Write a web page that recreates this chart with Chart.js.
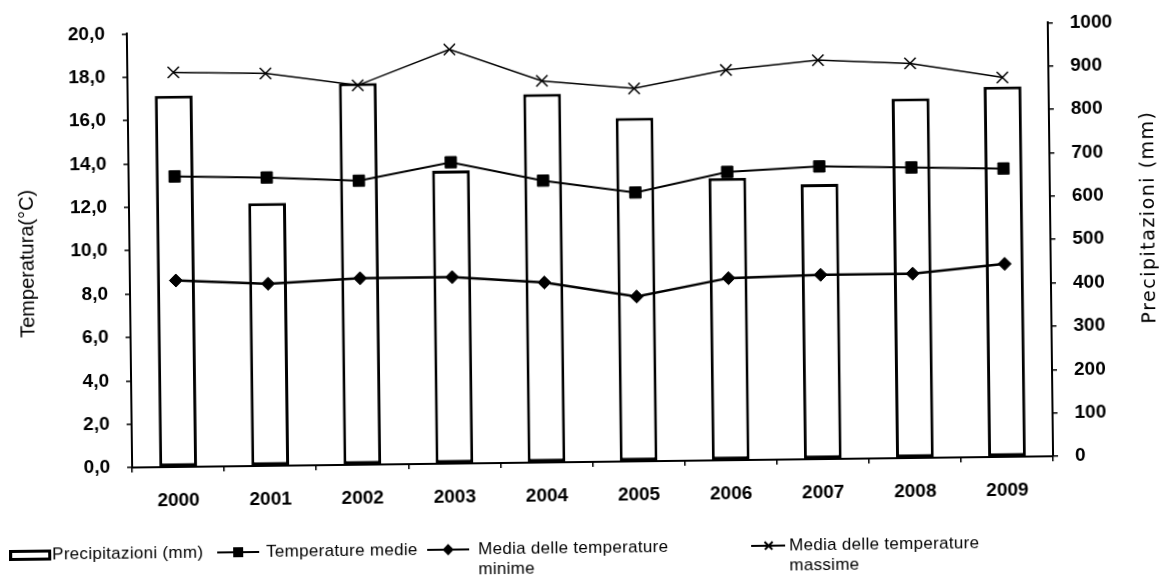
<!DOCTYPE html>
<html>
<head>
<meta charset="utf-8">
<script src="https://cdn.jsdelivr.net/npm/chart.js@4/dist/chart.umd.min.js"></script>
<style>
  html, body { margin: 0; padding: 0; background: #fff; }
  #wrap { position: relative; width: 1164px; height: 579px; transform: rotate(-0.7deg); transform-origin: 582px 289.5px; }
  #chart { position: absolute; left: 0; top: 0; }
  .leg { position: absolute; font: 17px "Liberation Sans", Arial, sans-serif; color: #000; line-height: 20px; white-space: nowrap; letter-spacing: 0.3px; }
  .sym { position: absolute; }
  .box { border: 3px solid #000; background: #fff; box-sizing: border-box; }
  .ln { position: absolute; left: 0; right: 0; top: 50%; height: 2px; margin-top: -1px; background: #000; }
  .sq { position: absolute; left: 50%; top: 50%; width: 10px; height: 10px; margin: -5px 0 0 -5px; background: #000; }
  .dm { position: absolute; left: 50%; top: 50%; width: 8px; height: 8px; margin: -4px 0 0 -4px; background: #000; transform: rotate(45deg); }
  .xa, .xb { position: absolute; left: 50%; top: 50%; width: 11px; height: 1.5px; margin: -0.75px 0 0 -5.5px; background: #000; }
  .xa { transform: rotate(45deg); }
  .xb { transform: rotate(-45deg); }
</style>
</head>
<body>
<div id="wrap">
  <canvas id="chart" width="1164" height="579"></canvas>

  <div class="sym box" style="left:6px; top:543px; width:42px; height:11px;"></div>
  <div class="leg" id="lg0" style="left:49px; top:538px;"></div>

  <div class="sym" style="left:214px; top:538px; width:42px; height:20px;"><div class="ln"></div><div class="sq"></div></div>
  <div class="leg" id="lg1" style="left:263px; top:538px;"></div>

  <div class="sym" style="left:424px; top:538px; width:42px; height:20px;"><div class="ln"></div><div class="dm"></div></div>
  <div class="leg" id="lg2" style="left:475px; top:538px;"></div>

  <div class="sym" style="left:748px; top:538px; width:34px; height:20px;"><div class="ln" style="height:1.5px"></div><div class="xa"></div><div class="xb"></div></div>
  <div class="leg" id="lg3" style="left:786px; top:538px;"></div>
</div>
<script>
// values
const years = ['2000', '2001', '2002', '2003', '2004', '2005', '2006', '2007', '2008', '2009'];
const precip = [856, 606, 880, 676, 850, 792, 651, 634, 829, 854];          // mm, right axis
const tMedie = [13.4, 13.3, 13.1, 13.9, 13.0, 12.4, 13.3, 13.5, 13.4, 13.3]; // °C
const tMin = [8.6, 8.4, 8.6, 8.6, 8.3, 7.6, 8.4, 8.5, 8.5, 8.9];
const tMax = [18.2, 18.1, 17.5, 19.1, 17.6, 17.2, 18.0, 18.4, 18.2, 17.5];

const seriesNames = ['Precipitazioni (mm)', 'Temperature medie', 'Media delle temperature\nminime', 'Media delle temperature\nmassime'];
const leftTitle = 'Temperatura(°C)';
const rightTitle = 'Precipitazioni (mm)';

// html legend (two-line labels)
seriesNames.forEach((name, i) => {
  document.getElementById('lg' + i).innerHTML = name.replace('\n', '<br>');
});

const tickFont = { family: '"Liberation Sans", Arial, sans-serif', size: 19, weight: 'bold' };

// axis titles drawn by hand: the right one reads bottom-to-top like the left one
const axisTitles = {
  id: 'axisTitles',
  afterDraw(chart) {
    const ctx = chart.ctx;
    ctx.save();
    ctx.fillStyle = '#000';
    ctx.textAlign = 'center';
    ctx.textBaseline = 'middle';
    ctx.font = '20px "Liberation Sans", Arial, sans-serif';
    ctx.translate(28, 257);
    ctx.rotate(-Math.PI / 2);
    ctx.fillText(leftTitle, 0, 0);
    ctx.restore();

    ctx.save();
    ctx.fillStyle = '#000';
    ctx.textAlign = 'center';
    ctx.textBaseline = 'middle';
    ctx.font = '19px "DejaVu Sans", sans-serif';
    ctx.letterSpacing = '1.5px';
    ctx.translate(1150, 224);
    ctx.rotate(-Math.PI / 2);
    ctx.fillText(rightTitle, 0, 0);
    ctx.restore();
  }
};

const ctx = document.getElementById('chart').getContext('2d');
new Chart(ctx, {
  type: 'bar',
  data: {
    labels: years,
    datasets: [
      {
        type: 'line', label: seriesNames[1], data: tMedie, yAxisID: 'y', order: 1,
        borderColor: '#000', borderWidth: 2, tension: 0,
        pointStyle: 'rect', pointRadius: 8, pointBackgroundColor: '#000', pointBorderColor: '#000', pointBorderWidth: 1
      },
      {
        type: 'line', label: seriesNames[2], data: tMin, yAxisID: 'y', order: 1,
        borderColor: '#000', borderWidth: 2.5, tension: 0,
        pointStyle: 'rectRot', pointRadius: 6.5, pointBackgroundColor: '#000', pointBorderColor: '#000', pointBorderWidth: 1
      },
      {
        type: 'line', label: seriesNames[3], data: tMax, yAxisID: 'y', order: 1,
        borderColor: '#000', borderWidth: 1.5, tension: 0,
        pointStyle: 'crossRot', pointRadius: 8, pointBorderColor: '#000', pointBorderWidth: 1.5
      },
      {
        type: 'bar', label: seriesNames[0], data: precip, yAxisID: 'y1', order: 2,
        backgroundColor: '#fff', borderColor: '#000', borderWidth: 3, borderSkipped: false,
        barPercentage: 0.41, categoryPercentage: 1
      }
    ]
  },
  options: {
    responsive: false,
    animation: false,
    layout: { padding: { top: 28, left: 0, right: 0, bottom: 0 } },
    plugins: { legend: { display: false }, tooltip: { enabled: false } },
    scales: {
      x: {
        offset: true,
        grid: { offset: true, drawOnChartArea: false, tickLength: 5, color: '#000', lineWidth: 1.5 },
        border: { color: '#000', width: 2 },
        ticks: { color: '#000', font: tickFont, padding: 17, maxRotation: 0 },
        afterFit(s) { s.height = 117; }
      },
      y: {
        position: 'left', min: 0, max: 20,
        grid: { drawOnChartArea: false, tickLength: 5, color: '#000', lineWidth: 1.5 },
        border: { color: '#000', width: 2 },
        ticks: { stepSize: 2, color: '#000', font: tickFont, padding: 17, callback: v => v.toFixed(1).replace('.', ',') },
        afterFit(s) { s.width = 130; }
      },
      y1: {
        position: 'right', min: 0, max: 1000,
        grid: { drawOnChartArea: false, tickLength: 5, color: '#000', lineWidth: 1.5 },
        border: { color: '#000', width: 2 },
        ticks: { stepSize: 100, color: '#000', font: tickFont, padding: 17, callback: v => String(v) },
        afterFit(s) { s.width = 113; }
      }
    }
  },
  plugins: [axisTitles]
});
</script>
</body>
</html>
